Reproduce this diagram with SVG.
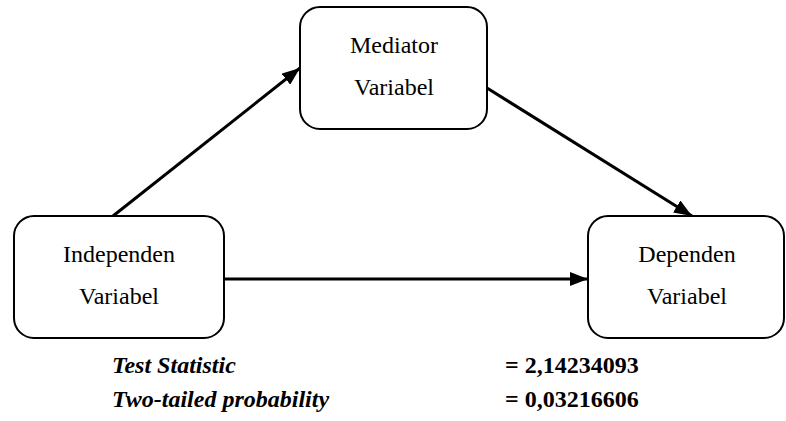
<svg xmlns="http://www.w3.org/2000/svg" width="786" height="421" viewBox="0 0 786 421">
<style>
.box{fill:#fff;stroke:#000;stroke-width:2}
.c{stroke:#000;stroke-width:3;fill:none}
</style>
<defs>
<marker id="ah2" viewBox="0 0 10 10" refX="10" refY="5" markerWidth="18" markerHeight="14" orient="auto" markerUnits="userSpaceOnUse" preserveAspectRatio="none">
<path d="M0,0 L10,5 L0,10 z" fill="#000"/>
</marker>
</defs>
<g id="connectors">
<line class="c" x1="113" y1="216" x2="300" y2="68" marker-end="url(#ah2)"/>
<line class="c" x1="487" y1="88" x2="692" y2="216" marker-end="url(#ah2)"/>
<line class="c" x1="224" y1="279" x2="588" y2="279" marker-end="url(#ah2)"/>
</g>
<g font-family="'Liberation Serif', 'Times New Roman', serif" font-size="24" fill="#000">
<g id="mediator" text-anchor="middle">
<rect class="box" x="300" y="7" width="187" height="122" rx="20"/>
<text x="394" y="53">Mediator</text>
<text x="394" y="95">Variabel</text>
</g>
<g id="independen" text-anchor="middle">
<rect class="box" x="14" y="216" width="210" height="122" rx="20"/>
<text x="119" y="262">Independen</text>
<text x="119" y="304">Variabel</text>
</g>
<g id="dependen" text-anchor="middle">
<rect class="box" x="588" y="216" width="196" height="122" rx="20"/>
<text x="687" y="262">Dependen</text>
<text x="687" y="304">Variabel</text>
</g>
<g id="stats" font-weight="bold">
<text x="112" y="373" font-style="italic">Test Statistic</text>
<text x="112" y="407" font-style="italic">Two-tailed probability</text>
<text x="505" y="373">= 2,14234093</text>
<text x="505" y="407">= 0,03216606</text>
</g>
</g>
</svg>
